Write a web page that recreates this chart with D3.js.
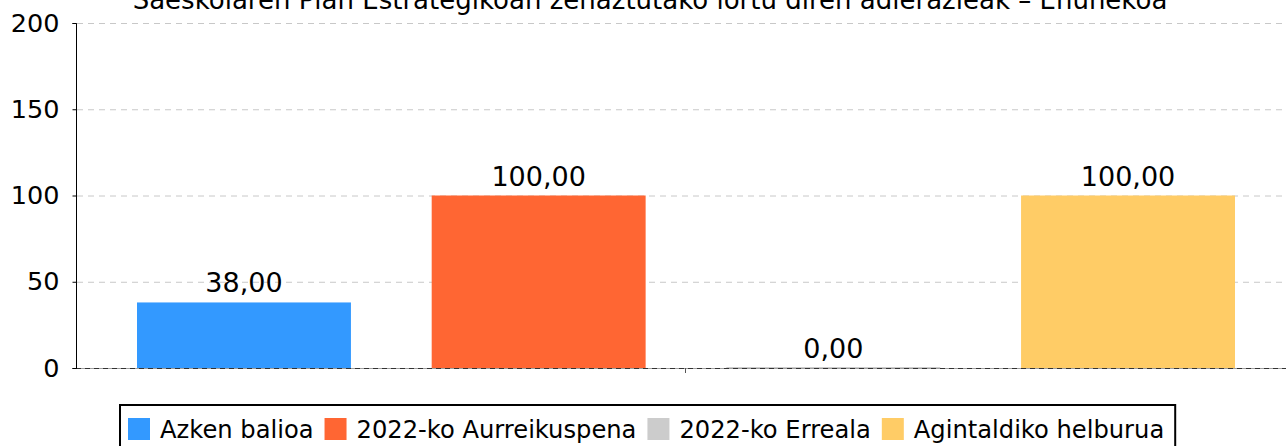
<!DOCTYPE html>
<html>
<head>
<meta charset="utf-8">
<script src="https://cdn.jsdelivr.net/npm/d3@7"></script>
<style>
  html, body { margin: 0; padding: 0; background: #fff; }
  svg { display: block; font-family: "DejaVu Sans", sans-serif; }
</style>
</head>
<body>
<div id="chart"></div>
<script>
// chart data
const chartTitle = "Saeskolaren Plan Estrategikoan zehaztutako lortu diren adierazleak \u2013 Ehunekoa";
const seriesNames = ["Azken balioa", "2022-ko Aurreikuspena", "2022-ko Erreala", "Agintaldiko helburua"];
const seriesValues = [38, 100, 0, 100];
const seriesColors = ["#3399ff", "#ff6633", "#cccccc", "#ffcc66"];
const yTicks = [0, 50, 100, 150, 200];

const W = 1286, H = 446;
const plot = { left: 76, right: 1286, top: 23, bottom: 368 };

const svg = d3.select("#chart").append("svg")
  .attr("width", W)
  .attr("height", H);

// title, cut off at the top like the original
svg.append("text")
  .attr("x", 650)
  .attr("y", 9)
  .attr("text-anchor", "middle")
  .style("font-size", "26px")
  .text(chartTitle);

var y = d3.scaleLinear().domain([0, 200]).range([plot.bottom, plot.top]);
var x = d3.scaleBand()
  .domain(seriesNames)
  .range([137, 1235])
  .paddingInner(0.274)
  .paddingOuter(0);

// grid lines
svg.append("g")
  .selectAll("line")
  .data(yTicks.filter(d => d > 0))
  .join("line")
  .attr("x1", plot.left + 1)
  .attr("x2", plot.right)
  .attr("y1", d => y(d) + 0.5)
  .attr("y2", d => y(d) + 0.5)
  .attr("stroke", "#c8c8c8")
  .attr("stroke-width", 1)
  .attr("stroke-dasharray", "6,5");

// baseline: light axis line + dark dashed zero line
svg.append("line")
  .attr("x1", plot.left).attr("x2", plot.right)
  .attr("y1", y(0) + 0.5).attr("y2", y(0) + 0.5)
  .attr("stroke", "#a0a0a0");
svg.append("line")
  .attr("x1", plot.left).attr("x2", plot.right)
  .attr("y1", y(0) + 0.5).attr("y2", y(0) + 0.5)
  .attr("stroke", "#333")
  .attr("stroke-dasharray", "5,4");

// bars
svg.append("g")
  .selectAll("rect")
  .data(seriesValues)
  .join("rect")
  .attr("x", (d, i) => x(seriesNames[i]))
  .attr("width", x.bandwidth())
  .attr("y", d => Math.min(y(d), y(0) - 1))
  .attr("height", d => Math.max(1, y(0) - y(d)))
  .attr("fill", (d, i) => seriesColors[i]);

// value labels
var fmt = d3.format(".2f");
svg.append("g")
  .selectAll("text")
  .data(seriesValues)
  .join("text")
  .attr("x", (d, i) => x(seriesNames[i]) + x.bandwidth() / 2)
  .attr("y", d => y(d) - 10)
  .attr("text-anchor", "middle")
  .style("font-size", "27px")
  .text(d => fmt(d).replace(".", ","));

// y axis
var yaxis = svg.append("g")
  .attr("transform", "translate(" + (plot.left + 0.5) + ",0)")
  .call(d3.axisLeft(y).tickValues(yTicks).tickSize(4).tickPadding(13));
yaxis.select(".domain").attr("stroke", "#000").attr("d", "M-4," + (plot.top + 0.5) + "H0V" + (plot.bottom + 0.5) + "H-4");
yaxis.selectAll(".tick line").attr("stroke", "#000");
yaxis.selectAll("text")
  .style("font-size", "25.5px")
  .style("font-family", "DejaVu Sans, sans-serif")
  .attr("fill", "#000");

// category tick
svg.append("line")
  .attr("x1", 685.5).attr("x2", 685.5)
  .attr("y1", y(0)).attr("y2", y(0) + 5)
  .attr("stroke", "#555");

// legend
var legend = svg.append("g");
var lx = 128;
seriesNames.forEach(function (name, i) {
  legend.append("rect")
    .attr("x", lx)
    .attr("y", 418)
    .attr("width", 22)
    .attr("height", 22)
    .attr("fill", seriesColors[i]);
  var t = legend.append("text")
    .attr("x", lx + 32)
    .attr("y", 438)
    .style("font-size", "24.2px")
    .text(name);
  lx = lx + 32 + t.node().getComputedTextLength() + 11;
});
legend.insert("rect", ":first-child")
  .attr("x", 120)
  .attr("y", 405)
  .attr("width", lx - 120)
  .attr("height", 60)
  .attr("fill", "#fff")
  .attr("stroke", "#000")
  .attr("stroke-width", 2);
</script>
</body>
</html>
